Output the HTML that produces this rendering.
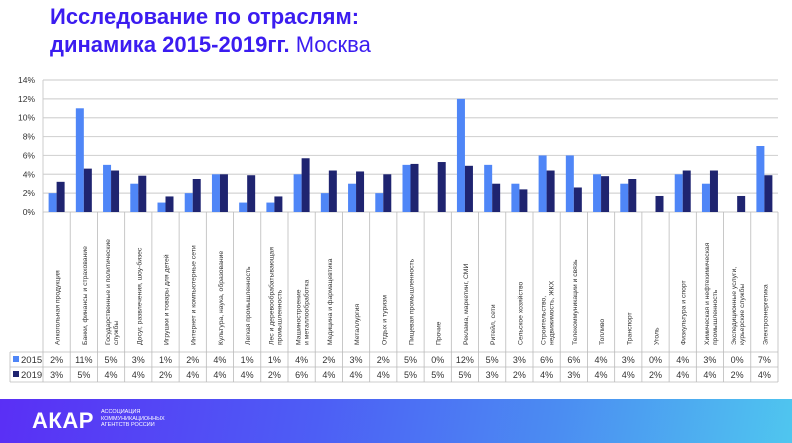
<!DOCTYPE html>
<html><head><meta charset="utf-8"><style>
body{margin:0;width:792px;height:443px;overflow:hidden;background:#fff;font-family:"Liberation Sans",sans-serif}
#title{position:absolute;left:50px;top:3px;color:#3b1cf0;font-size:22px;font-weight:bold;line-height:28px}
#title span{font-weight:normal}
#footer{position:absolute;left:0;top:399px;width:792px;height:44px;background:linear-gradient(100deg,#5a2ff5 0%,#4d5ef5 40%,#4b8cf2 70%,#4fc6ef 100%)}
</style></head><body>
<div id="title">Исследование по отраслям:<br>динамика 2015-2019гг. <span>Москва</span></div>
<svg id="chart" width="792" height="399" style="position:absolute;left:0;top:0"></svg>
<div id="footer">
<div style="position:absolute;left:32px;top:9px;color:#fff;font-weight:bold;font-size:22px;letter-spacing:0.5px">АКАР</div>
<div style="position:absolute;left:101px;top:10px;color:#fff;font-size:5.5px;line-height:6.5px">АССОЦИАЦИЯ<br>КОММУНИКАЦИОННЫХ<br>АГЕНТСТВ РОССИИ</div>
</div>
<script>
const categories=[["Алкогольная продукция"],["Банки, финансы и страхование"],["Государственные и политические","службы"],["Досуг, развлечения, шоу-бизес"],["Игрушки и товары для детей"],["Интернет и компьютерные сети"],["Культура, наука, образование"],["Легкая промышленность"],["Лес и деревообрабатывающая","промышленность"],["Машиностроение","и металлообработка"],["Медицина и фармацевтика"],["Металлургия"],["Отдых и туризм"],["Пищевая промышленность"],["Прочие"],["Реклама, маркетинг, СМИ"],["Ритейл, сети"],["Сельское хозяйство"],["Строительство,","недвижимость, ЖКХ"],["Телекоммуникации и связь"],["Топливо"],["Транспорт"],["Уголь"],["Физкультура и спорт"],["Химическая и нефтехимическая","промышленность"],["Экспедиционные услуги,","курьерские службы"],["Электроэнергетика"]];
const values2015=[2,11,5,3,1,2,4,1,1,4,2,3,2,5,0,12,5,3,6,6,4,3,0,4,3,0,7];
const values2019=[3.2,4.6,4.4,3.85,1.65,3.5,4.0,3.9,1.65,5.7,4.4,4.3,4.0,5.1,5.3,4.9,3.0,2.4,4.4,2.6,3.8,3.5,1.7,4.4,4.4,1.7,3.9];
const yTicks=[0,2,4,6,8,10,12,14];
const svg=document.getElementById('chart');
const NS='http://www.w3.org/2000/svg';
const X0=43,X1=778,Y0=212,YT=80,MAX=14;
const cw=(X1-X0)/categories.length;
const y=v=>Y0-(Y0-YT)*v/MAX;
const x=i=>X0+i*cw;
function mk(t,a){const e=document.createElementNS(NS,t);for(const k in a)e.setAttribute(k,a[k]);svg.appendChild(e);return e;}
yTicks.forEach(t=>{
 const g=mk('line',{x1:X0,x2:X1,y1:y(t),y2:y(t),stroke:'#d4d4d4','stroke-width':1.2});
 
 
 const l=mk('text',{x:35,y:y(t)+3,'text-anchor':'end','font-size':8.5,fill:'#333'});
 l.textContent=t+'%';
 
 
});
mk('line',{x1:X0,x2:X0,y1:YT,y2:Y0,stroke:'#ccc'});
const tl=10,r1=352,r2=367,r3=382;
[r1,r2,r3].forEach(r=>mk('line',{x1:tl,x2:X1,y1:r,y2:r,stroke:'#bbb','stroke-width':0.8}));
mk('line',{x1:tl,x2:tl,y1:r1,y2:r3,stroke:'#bbb','stroke-width':0.8});
for(let i=0;i<=categories.length;i++){
 mk('line',{x1:x(i),x2:x(i),y1:Y0,y2:r3,stroke:'#bbb','stroke-width':0.8});
}
[['2015','#4f86f7',r1],['2019','#1f2470',r2]].forEach(([n,c,r])=>{
 const s=mk('rect',{x:13,y:r+4,width:6,height:6,fill:c});
 
 
 const t=mk('text',{x:21,y:r+11,'font-size':9.5,fill:'#333'});t.textContent=n;
 
 
});
categories.forEach((c,i)=>{
 const cx=x(i)+cw/2;
 const b1=mk('rect',{x:cx-8,y:y(values2015[i]),width:8,height:Y0-y(values2015[i]),fill:'#4f86f7'});
 
 
 const b2=mk('rect',{x:cx,y:y(values2019[i]),width:8,height:Y0-y(values2019[i]),fill:'#1f2470'});
 
 
 const n=c.length;
 c.forEach((line,j)=>{
  const lx=cx+3+(j-(n-1)/2)*8;
  const t=mk('text',{x:lx,y:345,'font-size':6.8,fill:'#333',transform:`rotate(-90 ${lx} 345)`});
  t.textContent=line;
  
  
 });
 const v1=mk('text',{x:cx,y:r1+11,'text-anchor':'middle','font-size':9,fill:'#333'});v1.textContent=Math.round(values2015[i])+'%';
 
 
 const v2=mk('text',{x:cx,y:r2+11,'text-anchor':'middle','font-size':9,fill:'#333'});v2.textContent=Math.round(values2019[i])+'%';
 
 
});
</script>
</body></html>
